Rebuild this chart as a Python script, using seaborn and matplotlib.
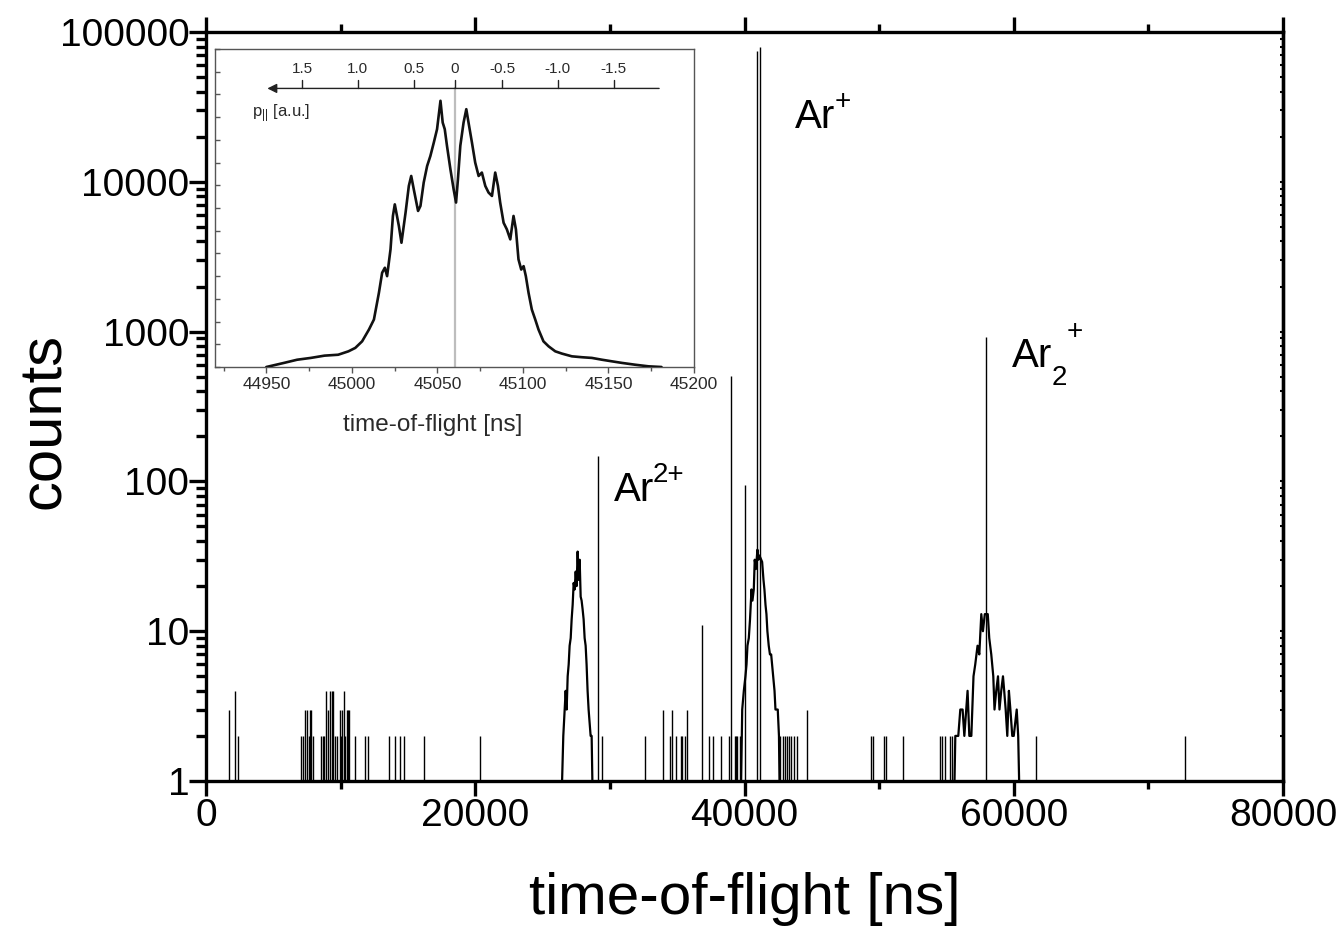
import numpy as np
import pandas as pd
import matplotlib
matplotlib.use("Agg")
import matplotlib.pyplot as plt
from matplotlib.ticker import FixedLocator, NullFormatter, FuncFormatter, LogLocator
import seaborn as sns

# ---------------- data ----------------
# isolated histogram spikes of the main time-of-flight spectrum
spike_tof = [1700, 2150, 2370,
             7050, 7180, 7370, 7500, 7620, 7700, 7790, 7920,
             8530, 8660, 8780, 8930, 9030, 9220, 9330, 9400, 9600, 9720, 9920,
             10020, 10120, 10270, 10340, 10440, 10520, 10610,
             11060, 11820, 12070, 13630, 14050, 14420, 14720, 16230, 20330,
             29110, 29400,
             32580, 33940, 34460, 34630, 34930, 35250, 35370, 35550, 35700,
             36810, 37330, 37670, 38270, 38830, 38990, 39260, 39380, 39480, 39650,
             40020, 40940, 41135,
             42670, 42840, 43040, 43170, 43340, 43490, 43660, 43930, 44670,
             49400, 49540, 50340, 50540, 51750,
             54540, 54690, 54860, 55240, 55420, 57960, 61670, 72730]
spike_counts = [3, 4, 2,
                2, 2, 3, 3, 2, 3, 3, 2,
                2, 2, 2, 4, 3, 4, 4, 4, 2, 2, 3,
                2, 3, 4, 2, 3, 3, 3,
                2, 2, 2, 2, 2, 2, 2, 2, 2,
                148, 2,
                2, 3, 2, 3, 2, 2, 2, 2, 3,
                11, 2, 2, 2, 2, 507, 2, 2, 2, 2,
                95, 75000, 79400,
                2, 2, 2, 2, 2, 2, 2, 2, 3,
                2, 2, 2, 2, 2,
                2, 2, 2, 2, 2, 926, 2, 2]

# Ar2+ (doubly charged) peak profile
ar2p_tof = [26450, 26540, 26715, 26790, 26865, 26940, 27010, 27090, 27160, 27235,
            27310, 27385, 27460, 27530, 27605, 27680, 27755, 27830, 27900, 27975,
            28050, 28125, 28200, 28270, 28345, 28420, 28570, 28645, 28700]
ar2p_counts = [1, 2, 4, 3, 5, 6, 8, 9, 12, 15,
               21, 19, 25, 20, 34, 22, 30, 17, 16, 14,
               12, 9, 8, 6, 4, 3, 2, 2, 1]

# Ar+ peak wings
arp_tof = [39750, 39830, 39950, 40070, 40150, 40220, 40320, 40410, 40520, 40590,
           40690, 40760, 40850, 40960, 41040, 41110, 41310, 41410, 41480, 41560,
           41630, 41700, 41800, 41890, 41980, 42130, 42230, 42300, 42470, 42560, 42600]
arp_counts = [1, 3, 4, 5, 6, 8, 9, 12, 19, 16,
              19, 30, 26, 35, 30, 32, 29, 22, 19, 15,
              13, 10, 8, 7, 7, 5, 4, 3, 3, 2, 1]

# Ar2+ (dimer) peak profile
dimer_tof = [55600, 55660, 55880, 56030, 56200, 56330, 56570, 56700, 56850, 57010,
             57140, 57310, 57440, 57590, 57710, 57850, 58070, 58180, 58330, 58480,
             58570, 58700, 58830, 58940, 59070, 59200, 59290, 59400, 59520, 59640,
             59750, 59890, 60000, 60220, 60330, 60400]
dimer_counts = [1, 2, 2, 3, 3, 2, 4, 2, 2, 5,
                6, 8, 7, 13, 10, 13, 13, 9, 7, 5,
                3, 4, 5, 3, 4, 5, 4, 3, 2, 4,
                3, 2, 2, 3, 2, 1]

# inset: zoom on the Ar+ peak
inset_tof = [44950, 44960.3, 44968, 44976, 44984, 44992, 44998, 45002, 45006, 45010,
             45012.9, 45015.8, 45017.7, 45019.3, 45020.6, 45022.6, 45024, 45025.1, 45027.5, 45029,
             45031.4, 45033.3, 45034.7, 45036.2, 45038.7, 45040.1, 45042, 45044, 45045.9, 45047.9,
             45049.8, 45051.8, 45053.1, 45054.3, 45055.6, 45057.6, 45059.5, 45060.9, 45062, 45063.4,
             45065.3, 45066.9, 45068.2, 45070.2, 45072.1, 45074.1, 45076, 45078, 45079.9, 45081.9,
             45083.8, 45085.4, 45086.7, 45088.7, 45090.6, 45092.6, 45094.5, 45095.9, 45097.4, 45099,
             45100.4, 45101.7, 45103.3, 45105.2, 45107.2, 45109.1, 45112, 45115, 45118.9, 45122.8,
             45128.6, 45134.5, 45140.3, 45146.2, 45152, 45157.9, 45165.6, 45173.4, 45181]
inset_counts = [0, 180, 320, 400, 500, 540, 690, 840, 1130, 1650,
                2090, 3260, 4150, 4370, 4000, 5180, 6650, 7160, 6200, 5470,
                6800, 7970, 8410, 7820, 6870, 7090, 8120, 8850, 9290, 9880,
                10470, 11720, 10760, 10470, 9740, 8710, 7820, 7240, 8260, 9740,
                10760, 11350, 10760, 9880, 9000, 8410, 8560, 7970, 7680, 7530,
                8560, 7970, 7240, 6350, 6060, 5620, 6650, 6060, 4740, 4290,
                4440, 4000, 3260, 2530, 2090, 1650, 1130, 910, 690, 590,
                470, 430, 400, 320, 250, 180, 100, 30, 0]

# momentum scale of the inset (p_parallel in a.u. and matching time-of-flight)
p_labels = ["1.5", "1.0", "0.5", "0", "-0.5", "-1.0", "-1.5"]
p_tof = [44971, 45003.5, 45036.2, 45060.1, 45087.8, 45120.3, 45153]

x_major = [0, 20000, 40000, 60000, 80000]
y_major = [1, 10, 100, 1000, 10000, 100000]
inset_x_major = [44950, 45000, 45050, 45100, 45150, 45200]

# peak labels: (base text, superscript, subscript, x, y)
peak_labels = [("Ar", "2+", "", 30280, 74),
               ("Ar", "+", "", 43780, 22770),
               ("Ar", "+", "2", 59890, 582)]

# ---------------- style ----------------
sns.set_theme(style="ticks")
plt.rcParams["font.family"] = ["Liberation Sans", "DejaVu Sans"]
plt.rcParams["mathtext.fontset"] = "custom"
plt.rcParams["mathtext.rm"] = "Liberation Sans"
plt.rcParams["mathtext.it"] = "Liberation Sans"
plt.rcParams["mathtext.bf"] = "Liberation Sans:bold"
plt.rcParams["text.color"] = "black"
plt.rcParams["axes.labelcolor"] = "black"

W, H = 1341, 941
fig = plt.figure(figsize=(W / 100, H / 100), dpi=100)
fig.patch.set_facecolor("white")

L, R, T, B = 206, 1283, 32, 781
ax = fig.add_axes([L / W, 1 - B / H, (R - L) / W, (B - T) / H])
ax.set_facecolor("white")
ax.set_yscale("log")
ax.set_xlim(0, 80000)
ax.set_ylim(1, 100000)

ax.vlines(spike_tof, 1, spike_counts, color="black", linewidth=1.0)
for xs, ys in [(ar2p_tof, ar2p_counts), (arp_tof, arp_counts), (dimer_tof, dimer_counts)]:
    sns.lineplot(x=xs, y=ys, ax=ax, estimator=None, sort=False,
                 color="black", linewidth=1.6)

for sp in ax.spines.values():
    sp.set_visible(True)
    sp.set_linewidth(2.4)
    sp.set_color("black")

ax.xaxis.set_major_locator(FixedLocator(x_major))
ax.xaxis.set_minor_locator(FixedLocator([10000, 30000, 50000, 70000]))
ax.xaxis.set_major_formatter(FuncFormatter(lambda v, p: f"{int(v)}"))
ax.yaxis.set_major_locator(FixedLocator(y_major))
ax.yaxis.set_minor_locator(LogLocator(base=10, subs=range(2, 10)))
ax.yaxis.set_major_formatter(FuncFormatter(lambda v, p: f"{int(round(v))}"))
ax.yaxis.set_minor_formatter(NullFormatter())

ax.tick_params(axis="x", which="both", direction="out", top=True, bottom=True,
               width=2.4, colors="black", labelcolor="black", labelsize=28, pad=1)
ax.tick_params(axis="x", which="major", length=11)
ax.tick_params(axis="x", which="minor", length=6)
ax.tick_params(axis="y", which="both", direction="out", left=True, right=False,
               width=2.4, colors="black", labelcolor="black", labelsize=28, pad=0)
ax.tick_params(axis="y", which="major", length=12)
ax.tick_params(axis="y", which="minor", length=7)

sec = ax.secondary_yaxis("right")
sec.yaxis.set_major_locator(FixedLocator(y_major))
sec.yaxis.set_minor_locator(LogLocator(base=10, subs=range(2, 10)))
sec.tick_params(axis="y", which="both", direction="in", length=2.5, width=1.5,
                colors="black", labelright=False)
sec.spines["right"].set_linewidth(2.4)

ax.set_xlabel("time-of-flight [ns]", fontsize=42, color="black")
ax.set_ylabel("counts", fontsize=43, color="black")
ax.xaxis.set_label_coords(0.5, -0.122)
ax.yaxis.set_label_coords(-0.124, 0.48)

for base, sup, sub, x, y in peak_labels:
    ax.text(x, y, base, fontsize=29, ha="left", va="baseline", color="black")
    if sub:
        ax.annotate(sub, xy=(x, y), xytext=(28, -13), textcoords="offset points",
                    fontsize=20, ha="left", va="baseline", color="black")
        ax.annotate(sup, xy=(x, y), xytext=(39, 20), textcoords="offset points",
                    fontsize=20, ha="left", va="baseline", color="black")
    else:
        ax.annotate(sup, xy=(x, y), xytext=(28, 14), textcoords="offset points",
                    fontsize=20, ha="left", va="baseline", color="black")

# ---------------- inset ----------------
iL, iR, iT, iB = 215, 694, 49, 367
ax_in = fig.add_axes([iL / W, 1 - iB / H, (iR - iL) / W, (iB - iT) / H])
ax_in.set_facecolor("white")
ax_in.set_xlim(44920, 45200)
ax_in.set_ylim(0, 14000)
sns.lineplot(x=inset_tof, y=inset_counts, ax=ax_in, estimator=None, sort=False,
             color="#111111", linewidth=1.9, zorder=3)

grey = "#555555"
for sp in ax_in.spines.values():
    sp.set_visible(True)
    sp.set_linewidth(1.0)
    sp.set_color(grey)

ax_in.xaxis.set_major_locator(FixedLocator(inset_x_major))
ax_in.xaxis.set_minor_locator(FixedLocator([44925, 44975, 45025, 45075, 45125, 45175]))
ax_in.xaxis.set_major_formatter(FuncFormatter(lambda v, p: f"{int(v)}"))
ax_in.yaxis.set_major_locator(FixedLocator(list(range(0, 14001, 1000))))
ax_in.yaxis.set_major_formatter(NullFormatter())
ax_in.tick_params(axis="x", which="both", direction="out", color=grey, width=1.0,
                  labelsize=12.5, labelcolor="#2a2a2a", pad=3)
ax_in.tick_params(axis="x", which="major", length=4.5)
ax_in.tick_params(axis="x", which="minor", length=3)
ax_in.tick_params(axis="y", which="both", direction="in", color=grey, width=1.0,
                  length=3.5, left=True, labelleft=False)
ax_in.set_xlabel("time-of-flight [ns]", fontsize=17.5, color="#2a2a2a")
ax_in.xaxis.set_label_coords(0.455, -0.147)
ax_in.set_ylabel("")

trans = ax_in.get_xaxis_transform()
y_arrow = 0.876
ax_in.plot([45060.1, 45060.1], [0, y_arrow], transform=trans, color="#bdbdbd",
           linewidth=1.6, zorder=1)
ax_in.annotate("", xy=(44950.6, y_arrow), xytext=(45179.6, y_arrow),
               xycoords=trans, textcoords=trans,
               arrowprops=dict(arrowstyle="-|>", color="#222222", lw=1.0,
                               mutation_scale=14, shrinkA=0, shrinkB=0))
for lab, t in zip(p_labels, p_tof):
    ax_in.plot([t, t], [y_arrow, y_arrow + 0.026], transform=trans, color="#222222",
               linewidth=1.0)
    ax_in.text(t, y_arrow + 0.06, lab, transform=trans, fontsize=11,
               color="#2a2a2a", ha="center", va="center")
ax_in.text(44941.8, 0.786, r"p$_{||}$ [a.u.]", transform=trans, fontsize=12,
           color="#2a2a2a", ha="left", va="baseline")

fig.savefig("out.png", dpi=100, facecolor="white")
